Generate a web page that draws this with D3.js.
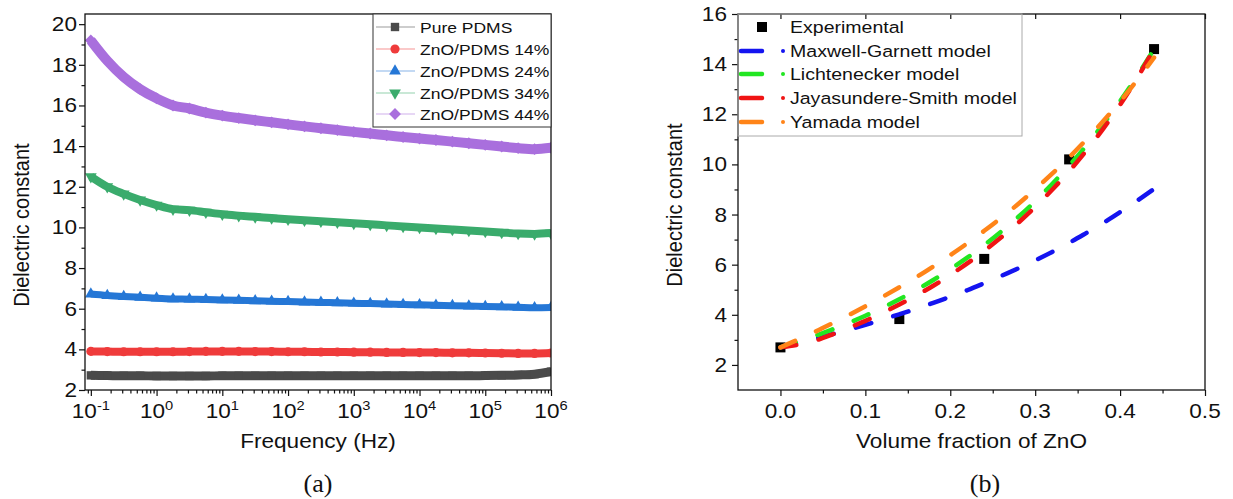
<!DOCTYPE html>
<html><head><meta charset="utf-8">
<script src="https://cdn.jsdelivr.net/npm/d3@7"></script>
<style>body{margin:0;background:#fff} text{font-family:Arial,"Liberation Sans",sans-serif;fill:#111}</style>
</head><body><svg id="c" width="1233" height="499"></svg>
<script>
// ---------- Panel (a) data ----------
const freqs = [0.1, 0.1778, 0.3162, 0.5623, 1, 1.778, 3.162, 5.623, 10, 17.78, 31.62, 56.23, 100, 177.8, 316.2, 562.3,
  1000, 1778, 3162, 5623, 10000, 17780, 31620, 56230, 100000, 177800, 316200, 562300, 1000000];
const purePDMS = [2.72, 2.71, 2.70, 2.70, 2.69, 2.69, 2.69, 2.69, 2.70, 2.70, 2.70, 2.70, 2.70, 2.70, 2.70, 2.70,
  2.70, 2.70, 2.70, 2.70, 2.70, 2.70, 2.70, 2.70, 2.71, 2.72, 2.74, 2.78, 2.90];
const zno14 = [3.90, 3.89, 3.88, 3.88, 3.88, 3.88, 3.89, 3.90, 3.90, 3.90, 3.89, 3.89, 3.88, 3.88, 3.87, 3.87,
  3.86, 3.86, 3.85, 3.85, 3.84, 3.84, 3.83, 3.83, 3.82, 3.81, 3.80, 3.80, 3.82];
const zno24 = [6.72, 6.65, 6.60, 6.56, 6.52, 6.48, 6.47, 6.45, 6.43, 6.41, 6.39, 6.37, 6.35, 6.33, 6.31, 6.29,
  6.27, 6.25, 6.23, 6.21, 6.19, 6.17, 6.15, 6.13, 6.11, 6.09, 6.07, 6.05, 6.06];
const zno34 = [12.50, 12.00, 11.65, 11.35, 11.10, 10.90, 10.85, 10.75, 10.65, 10.58, 10.52, 10.46, 10.40, 10.35, 10.30, 10.25,
  10.20, 10.15, 10.10, 10.05, 10.00, 9.95, 9.90, 9.85, 9.80, 9.75, 9.70, 9.68, 9.72];
const zno44 = [19.20, 18.20, 17.40, 16.80, 16.35, 16.00, 15.85, 15.65, 15.50, 15.38, 15.27, 15.17, 15.07, 14.97, 14.88, 14.79,
  14.70, 14.62, 14.53, 14.45, 14.37, 14.30, 14.22, 14.14, 14.06, 13.98, 13.90, 13.85, 13.92];
const seriesNamesA = ["Pure PDMS", "ZnO/PDMS 14%", "ZnO/PDMS 24%", "ZnO/PDMS 34%", "ZnO/PDMS 44%"];
const seriesColorsA = ["#4a4a4a", "#ef3b3b", "#2577d6", "#3aab6c", "#a96fdd"];
const yTicksA = [2, 4, 6, 8, 10, 12, 14, 16, 18, 20];
const xDecadesA = [-1, 0, 1, 2, 3, 4, 5, 6];

// ---------- Panel (b) data ----------
const expFraction = [0, 0.14, 0.24, 0.34, 0.44];
const expValue = [2.7, 3.83, 6.23, 10.2, 14.6];
const phi = [0, 0.02, 0.04, 0.06, 0.08, 0.10, 0.12, 0.14, 0.16, 0.18, 0.20, 0.22, 0.24, 0.26, 0.28, 0.30,
  0.32, 0.34, 0.36, 0.38, 0.40, 0.42, 0.44];
const maxwellGarnett = [2.70, 2.87, 3.04, 3.22, 3.40, 3.60, 3.81, 4.02, 4.24, 4.48, 4.72, 4.98, 5.26, 5.55, 5.85, 6.17,
  6.51, 6.87, 7.26, 7.66, 8.10, 8.55, 9.02];
const lichtenecker = [2.70, 2.92, 3.15, 3.40, 3.67, 3.96, 4.28, 4.62, 4.99, 5.39, 5.82, 6.28, 6.78, 7.32, 7.90, 8.53,
  9.22, 9.95, 10.74, 11.60, 12.52, 13.52, 14.60];
const jayasundereSmith = [2.70, 2.80, 2.96, 3.20, 3.47, 3.76, 4.07, 4.41, 4.77, 5.16, 5.59, 6.05, 6.55, 7.09, 7.67, 8.30,
  8.99, 9.73, 10.54, 11.42, 12.38, 13.44, 14.60];
const yamada = [2.70, 3.00, 3.31, 3.64, 3.98, 4.34, 4.71, 5.10, 5.50, 5.93, 6.38, 6.85, 7.35, 7.87, 8.42, 9.01,
  9.63, 10.28, 10.98, 11.72, 12.51, 13.36, 14.26];
const modelNames = ["Maxwell-Garnett model", "Lichtenecker model", "Jayasundere-Smith model", "Yamada model"];
const modelColors = ["#1414f0", "#22e622", "#f01414", "#ff8418"];
const yTicksB = [2, 4, 6, 8, 10, 12, 14, 16];
const xTicksB = [0.0, 0.1, 0.2, 0.3, 0.4, 0.5];

const SX = 1.13; // horizontal stretch of glyphs
const svg = d3.select("#c");

function txt(g, x, y, str, size, anchor, rot) {
  const t = g.append("text")
    .attr("transform", `translate(${x},${y}) scale(${SX},1)` + (rot ? ` rotate(${rot})` : ""))
    .attr("text-anchor", anchor || "start")
    .style("font-size", size + "px");
  if (str !== null) t.text(str);
  return t;
}

// ================= Panel (a) =================
const A = {l: 85, r: 551, t: 14, b: 390};
const xA = d3.scaleLog().domain([0.0815, 1e6]).range([A.l, A.r]);
const yA = d3.scaleLinear().domain([2, 20.5]).range([A.b, A.t]);
const gA = svg.append("g");

const minorA = [];
for (let e = -2; e < 6; e++) for (let m = 2; m <= 9; m++) { const v = m * Math.pow(10, e); if (v > 0.0815 && v < 1e6) minorA.push(v); }
gA.append("g").attr("transform", `translate(0,${A.b})`)
  .call(d3.axisBottom(xA).tickValues(minorA).tickSize(3.5).tickFormat(""))
  .call(g => g.select(".domain").remove());
gA.append("g").attr("transform", `translate(0,${A.b})`)
  .call(d3.axisBottom(xA).tickValues(xDecadesA.map(e => Math.pow(10, e))).tickSize(6).tickFormat(""))
  .call(g => g.select(".domain").remove());
gA.append("g").attr("transform", `translate(${A.l},0)`)
  .call(d3.axisLeft(yA).tickValues(d3.range(3, 21, 2)).tickSize(3.5).tickFormat(""))
  .call(g => g.select(".domain").remove());
gA.append("g").attr("transform", `translate(${A.l},0)`)
  .call(d3.axisLeft(yA).tickValues(yTicksA).tickSize(6).tickFormat(""))
  .call(g => g.select(".domain").remove());
gA.selectAll(".tick line").attr("stroke", "#111").attr("stroke-width", 1.2);

yTicksA.forEach(v => txt(gA, 77, yA(v) + 7, String(v), 20, "end"));
xDecadesA.forEach(e => {
  const t = txt(gA, xA(Math.pow(10, e)), 418, null, 20, "middle");
  t.append("tspan").text("10");
  t.append("tspan").attr("dy", -8).style("font-size", "13px").text(String(e));
});
txt(gA, (A.l + A.r) / 2, 448, "Frequency (Hz)", 20, "middle");
txt(gA, 29, 225, "Dielectric constant", 20, "middle", -90);

const dataA = [purePDMS, zno14, zno24, zno34, zno44];
const symA = [
  d3.symbol().type(d3.symbolSquare).size(70),
  d3.symbol().type(d3.symbolCircle).size(66),
  d3.symbol().type(d3.symbolTriangle).size(60),
  d3.symbol().type(d3.symbolTriangle).size(60),
  d3.symbol().type(d3.symbolSquare).size(70)
];
const rotA = [0, 0, 0, 180, 45];
const bandW = [9, 8, 7, 8, 10];
svg.append("clipPath").attr("id", "clipA").append("rect")
  .attr("x", A.l).attr("y", A.t).attr("width", A.r - A.l).attr("height", A.b - A.t);
const plotA = gA.append("g").attr("clip-path", "url(#clipA)");
dataA.forEach((vals, i) => {
  const pts = freqs.map((f, k) => [f, vals[k]]);
  plotA.append("path").datum(pts)
    .attr("d", d3.line().x(d => xA(d[0])).y(d => yA(d[1])).curve(d3.curveMonotoneX))
    .attr("fill", "none").attr("stroke", seriesColorsA[i]).attr("stroke-width", bandW[i]);
  plotA.selectAll(null).data(pts).join("path")
    .attr("d", symA[i])
    .attr("transform", d => `translate(${xA(d[0])},${yA(d[1])}) rotate(${rotA[i]})`)
    .attr("fill", seriesColorsA[i]);
});

gA.append("rect").attr("x", A.l).attr("y", A.t).attr("width", A.r - A.l).attr("height", A.b - A.t)
  .attr("fill", "none").attr("stroke", "#111").attr("stroke-width", 1.3);

const LA = {x: 373, y: 14, w: 178, h: 113};
gA.append("rect").attr("x", LA.x).attr("y", LA.y).attr("width", LA.w).attr("height", LA.h)
  .attr("fill", "#fff").attr("stroke", "#333").attr("stroke-width", 1);
const legRowsA = [27, 49, 71, 93, 114];
seriesNamesA.forEach((n, i) => {
  const yy = legRowsA[i];
  gA.append("line").attr("x1", 376).attr("x2", 415).attr("y1", yy).attr("y2", yy)
    .attr("stroke", seriesColorsA[i]).attr("stroke-opacity", 0.55).attr("stroke-width", 1);
  gA.append("path").attr("d", symA[i]).attr("transform", `translate(395,${yy}) rotate(${rotA[i]})`)
    .attr("fill", seriesColorsA[i]);
  txt(gA, 420, yy + 6, n, 15.5, "start");
});

// ================= Panel (b) =================
const B = {l: 738, r: 1205, t: 14, b: 390};
const xB = d3.scaleLinear().domain([-0.05, 0.5]).range([B.l, B.r]);
const yB = d3.scaleLinear().domain([1, 16]).range([B.b, B.t]);
const gB = svg.append("g");

gB.append("g").attr("transform", `translate(0,${B.b})`)
  .call(d3.axisBottom(xB).tickValues([0.05, 0.15, 0.25, 0.35, 0.45]).tickSize(3.5).tickFormat(""))
  .call(g => g.select(".domain").remove());
gB.append("g").attr("transform", `translate(0,${B.b})`)
  .call(d3.axisBottom(xB).tickValues(xTicksB).tickSize(6).tickFormat(""))
  .call(g => g.select(".domain").remove());
gB.append("g").attr("transform", `translate(${B.l},0)`)
  .call(d3.axisLeft(yB).tickValues([3, 5, 7, 9, 11, 13, 15]).tickSize(3.5).tickFormat(""))
  .call(g => g.select(".domain").remove());
gB.append("g").attr("transform", `translate(${B.l},0)`)
  .call(d3.axisLeft(yB).tickValues(yTicksB).tickSize(6).tickFormat(""))
  .call(g => g.select(".domain").remove());
gB.append("g").attr("transform", `translate(0,${B.t})`)
  .call(d3.axisBottom(xB).tickValues(xTicksB).tickSize(5).tickFormat(""))
  .call(g => g.select(".domain").remove());
gB.selectAll(".tick line").attr("stroke", "#111").attr("stroke-width", 1.2);

yTicksB.forEach(v => txt(gB, 727, yB(v) + 7, String(v), 20, "end"));
xTicksB.forEach(v => txt(gB, xB(v), 418, v.toFixed(1), 20, "middle"));
txt(gB, (B.l + B.r) / 2, 448, "Volume fraction of ZnO", 20, "middle");
txt(gB, 682, 205, "Dielectric constant", 20, "middle", -90);

gB.selectAll(null).data(expFraction.map((f, k) => [f, expValue[k]])).join("rect")
  .attr("x", d => xB(d[0]) - 5).attr("y", d => yB(d[1]) - 5)
  .attr("width", 10).attr("height", 10).attr("fill", "#000");

const models = [maxwellGarnett, lichtenecker, jayasundereSmith, yamada];
models.forEach((vals, i) => {
  gB.append("path").datum(phi.map((p, k) => [p, vals[k]]))
    .attr("d", d3.line().x(d => xB(d[0])).y(d => yB(d[1])).curve(d3.curveMonotoneX))
    .attr("fill", "none").attr("stroke", modelColors[i]).attr("stroke-width", 4.5)
    .attr("stroke-linecap", "round").attr("stroke-dasharray", "16 23");
});

gB.append("rect").attr("x", B.l).attr("y", B.t).attr("width", B.r - B.l).attr("height", B.b - B.t)
  .attr("fill", "none").attr("stroke", "#111").attr("stroke-width", 1.3);

gB.append("rect").attr("x", B.l).attr("y", B.t).attr("width", 284).attr("height", 122)
  .attr("fill", "none").attr("stroke", "#aaa").attr("stroke-width", 1);
gB.append("rect").attr("x", 757).attr("y", 22).attr("width", 10).attr("height", 10).attr("fill", "#000");
txt(gB, 790, 33, "Experimental", 17.3, "start");
const legRowsB = [51, 74, 98, 122];
modelNames.forEach((n, i) => {
  const yy = legRowsB[i];
  gB.append("line").attr("x1", 741).attr("x2", 762).attr("y1", yy).attr("y2", yy)
    .attr("stroke", modelColors[i]).attr("stroke-width", 4.5).attr("stroke-linecap", "round");
  gB.append("circle").attr("cx", 783).attr("cy", yy).attr("r", 2).attr("fill", modelColors[i]);
  txt(gB, 790, yy + 6, n, 17.3, "start");
});

svg.append("text").attr("x", 318).attr("y", 492).attr("text-anchor", "middle")
  .style("font-family", "'Liberation Serif','Times New Roman',serif").style("font-size", "26px").text("(a)");
svg.append("text").attr("x", 985).attr("y", 492).attr("text-anchor", "middle")
  .style("font-family", "'Liberation Serif','Times New Roman',serif").style("font-size", "26px").text("(b)");
</script></body></html>
